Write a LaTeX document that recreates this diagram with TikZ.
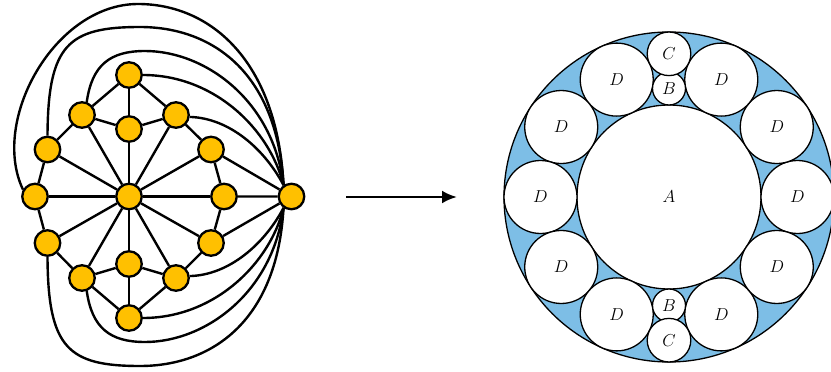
\documentclass[tikz,border=0pt]{standalone}
\usetikzlibrary{arrows.meta}
\definecolor{gold}{RGB}{255,192,0}
\definecolor{ringblue}{RGB}{125,190,230}
\begin{document}
\begin{tikzpicture}[x=1pt,y=-1pt,
  vtx/.style={circle,draw=black,fill=gold,line width=2.3pt,minimum size=25.5pt,inner sep=0pt},
  edge/.style={line width=2.4pt},
  disk/.style={circle,draw=black,fill=white,line width=1.3pt,inner sep=0pt,font=\LARGE},
  ]
\useasboundingbox (0,0) rectangle (831,372);
% ---- left graph: vertices
\node[vtx] (T)  at (129,75) {};
\node[vtx] (I1) at (129,129) {};
\node[vtx] (UL) at (82,115) {};
\node[vtx] (UR) at (176,115) {};
\node[vtx] (L1) at (47.5,149.5) {};
\node[vtx] (R1) at (211,149.5) {};
\node[vtx] (L)  at (35,196.5) {};
\node[vtx] (H)  at (129,196.5) {};
\node[vtx] (Rr) at (224,196.5) {};
\node[vtx] (X)  at (291.5,196.5) {};
\node[vtx] (L2) at (47.5,243) {};
\node[vtx] (R2) at (211,243) {};
\node[vtx] (LL) at (82,278) {};
\node[vtx] (LR) at (176,278) {};
\node[vtx] (I2) at (129,264) {};
\node[vtx] (B)  at (129,318) {};
% ---- straight edges
\draw[edge] (T)--(I1) (I1)--(H) (H)--(I2) (I2)--(B);
\foreach \v in {UL,UR,L1,R1,L,Rr,L2,R2,LL,LR} \draw[edge] (H)--(\v);
\draw[edge] (T)--(UL)--(L1)--(L)--(L2)--(LL)--(B)--(LR)--(R2)--(Rr)--(R1)--(UR)--(T);
\draw[edge] (UL)--(I1)--(UR) (LL)--(I2)--(LR);
\draw[edge] (R1)--(X) (Rr)--(X) (R2)--(X);
% ---- curved edges to X
\draw[edge] (T.0) .. controls (215,75) and (270,130) .. (X.125);
\draw[edge] (B.0) .. controls (215,318) and (270,263) .. (X.-125);
\draw[edge] (UR.-8) .. controls (230,118) and (265,150) .. (X.125);
\draw[edge] (LR.8) .. controls (230,275) and (265,243) .. (X.-125);
\draw[edge] (UL.70) .. controls (92,65) and (110,51) .. (145,51) .. controls (205,51) and (273,100) .. (X.125);
\draw[edge] (LL.-70) .. controls (92,328) and (110,342) .. (145,342) .. controls (205,342) and (273,293) .. (X.-125);
\draw[edge] (L1.90) .. controls (48,45) and (68,27) .. (140,27) .. controls (210,27) and (277,70) .. (X.125);
\draw[edge] (L2.-90) .. controls (48,348) and (68,366) .. (140,366) .. controls (210,366) and (277,323) .. (X.-125);
\draw[edge] (L.150) .. controls (-10,120) and (55,4) .. (138,4) .. controls (210,4) and (277,60) .. (X.125);
% ---- arrow
\coordinate (a0) at (346,197);
\coordinate (a1) at (457,197);
\draw[line width=2.8pt,-{Latex[length=15pt,width=13pt]}] (a0) -- (a1);
% ---- right diagram
\coordinate (O) at (669,197);
\node[disk,fill=ringblue,minimum size=330pt] (ring) at (O) {};
\node[disk,minimum size=184pt] (A) at (O) {$A$};
\foreach \a/\n in {0/1,33/2,66/3,114/4,147/5,180/6,213/7,246/8,294/9,327/10}
  \node[disk,minimum size=73pt] (D\n) at ([shift={(\a:128.5pt)}]O) {$D$};
\node[disk,minimum size=33pt] (B1) at ([shift={(90:108.5pt)}]O) {$B$};
\node[disk,minimum size=33pt] (B2) at ([shift={(-90:108.5pt)}]O) {$B$};
\node[disk,minimum size=43.6pt] (C1) at ([shift={(90:143.2pt)}]O) {$C$};
\node[disk,minimum size=43.6pt] (C2) at ([shift={(-90:143.2pt)}]O) {$C$};
\end{tikzpicture}
\end{document}
